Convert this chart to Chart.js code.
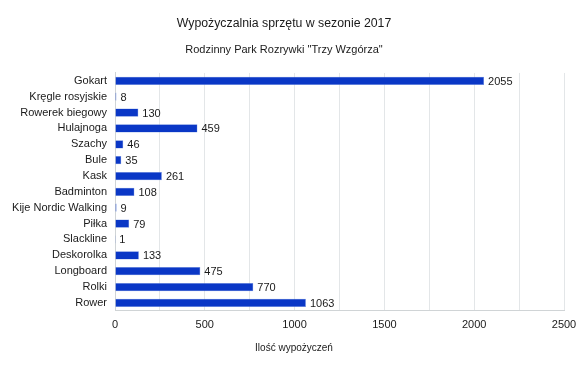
<!DOCTYPE html>
<html>
<head>
<meta charset="utf-8">
<script src="https://cdn.jsdelivr.net/npm/chart.js@4"></script>
<style>
  html, body { margin: 0; padding: 0; background: #fff; }
  #wrap { width: 588px; height: 369px; }
</style>
</head>
<body>
<div id="wrap"><canvas id="chart"></canvas></div>
<script>
const categories = ['Gokart', 'Kręgle rosyjskie', 'Rowerek biegowy', 'Hulajnoga', 'Szachy', 'Bule', 'Kask',
    'Badminton', 'Kije Nordic Walking', 'Piłka', 'Slackline', 'Deskorolka', 'Longboard', 'Rolki', 'Rower'];
const rentals = [2055, 8, 130, 459, 46, 35, 261, 108, 9, 79, 1, 133, 475, 770, 1063];
const xTickLabels = [0, 500, 1000, 1500, 2000, 2500];

const FONT = '"Liberation Sans", Arial, sans-serif';

// value next to each bar end
const valueLabels = {
    id: 'valueLabels',
    afterDatasetsDraw(chart) {
        const ctx = chart.ctx;
        const meta = chart.getDatasetMeta(0);
        ctx.save();
        ctx.font = '11px ' + FONT;
        ctx.fillStyle = '#1a1a1a';
        ctx.textAlign = 'left';
        ctx.textBaseline = 'middle';
        meta.data.forEach((bar, i) => {
            ctx.fillText(String(rentals[i]), bar.x + 4, bar.y + 1);
        });
        ctx.restore();
    }
};

// axis title is centred on the whole chart, not on the plot
const axisTitle = {
    id: 'axisTitle',
    afterDraw(chart) {
        const ctx = chart.ctx;
        ctx.save();
        ctx.font = '10px ' + FONT;
        ctx.fillStyle = '#1a1a1a';
        ctx.textAlign = 'center';
        ctx.textBaseline = 'middle';
        ctx.fillText('Ilość wypożyczeń', chart.width / 2, 348);
        ctx.restore();
    }
};

new Chart(document.getElementById('chart'), {
    type: 'bar',
    data: {
        labels: categories,
        datasets: [{
            label: 'Ilość wypożyczeń',
            data: rentals,
            backgroundColor: '#0a37c6',
            borderColor: '#6f8fe0',
            borderWidth: 0.5,
            categoryPercentage: 1,
            barPercentage: 0.52
        }]
    },
    options: {
        indexAxis: 'y',
        responsive: true,
        maintainAspectRatio: false,
        animation: false,
        layout: { padding: { left: 4, right: 24, top: 0, bottom: 29 } },
        plugins: {
            legend: { display: false },
            tooltip: { enabled: false },
            title: {
                display: true,
                text: 'Wypożyczalnia sprzętu w sezonie 2017',
                color: '#1a1a1a',
                font: { family: FONT, size: 12.3, weight: 'normal' },
                padding: { top: 16, bottom: 13 }
            },
            subtitle: {
                display: true,
                text: 'Rodzinny Park Rozrywki "Trzy Wzgórza"',
                color: '#1a1a1a',
                font: { family: FONT, size: 11, weight: 'normal' },
                padding: { top: 0, bottom: 16 }
            }
        },
        scales: {
            x: {
                min: 0,
                max: 2500,
                ticks: {
                    stepSize: 250,
                    color: '#1a1a1a',
                    font: { family: FONT, size: 11 },
                    padding: 8,
                    callback: (v) => xTickLabels.includes(v) ? String(v) : ''
                },
                grid: { color: '#e3e6e8', drawTicks: false },
                border: { color: '#d0d4d6' }
            },
            y: {
                ticks: {
                    autoSkip: false,
                    color: '#1a1a1a',
                    font: { family: FONT, size: 11 },
                    padding: 8
                },
                grid: { display: false, drawTicks: false },
                border: { color: '#d0d4d6' },
                afterFit(scale) { scale.width = 111; }
            }
        }
    },
    plugins: [valueLabels, axisTitle]
});
</script>
</body>
</html>
